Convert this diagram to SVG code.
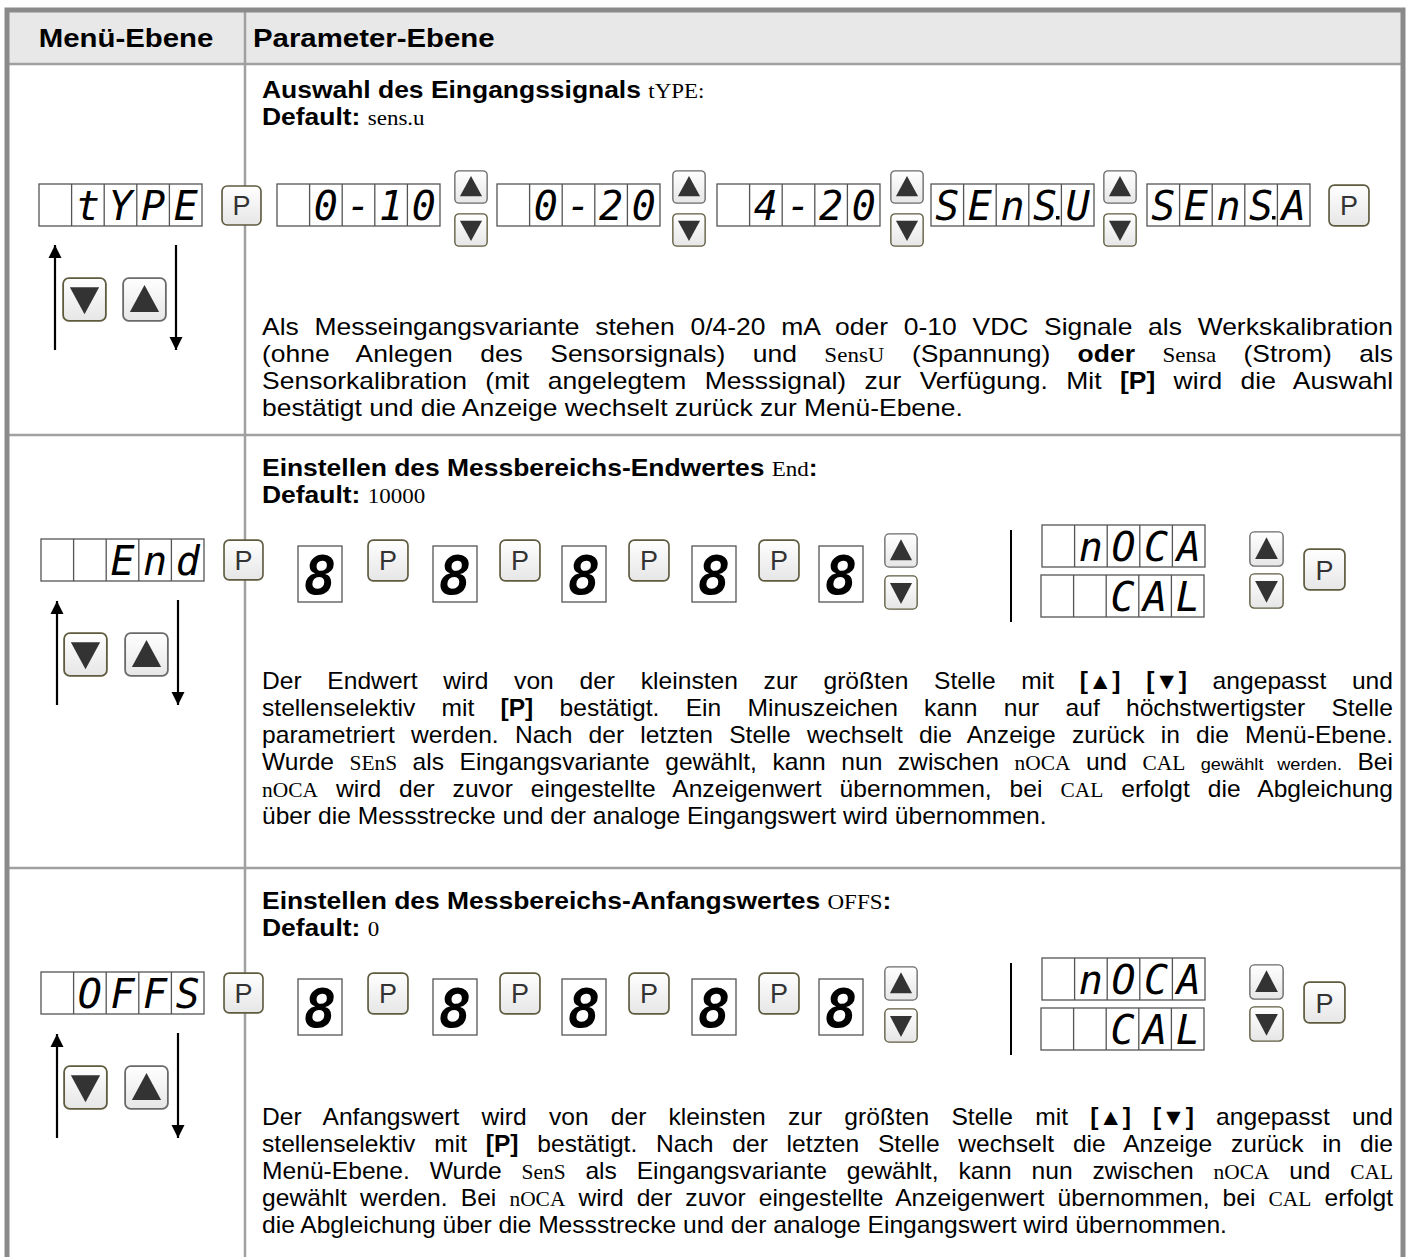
<svg xmlns="http://www.w3.org/2000/svg" width="1410" height="1257" viewBox="0 0 1410 1257">
<style>
.frame{fill:none;stroke:#8a8a8a;stroke-width:5}
.grid{stroke:#a0a0a0;stroke-width:2.5;fill:none}
.t{font-family:"Liberation Sans",Arial,sans-serif;font-size:23px;fill:#000}
.hd{font-family:"Liberation Sans",Arial,sans-serif;font-size:26px;font-weight:bold;fill:#000}
.b{font-weight:bold}
.s{font-family:"Liberation Serif","Times New Roman",serif;font-size:20px}
.sm{font-size:17px}
.seg{font-family:"DejaVu Sans Mono",monospace;font-style:oblique;font-size:40px;text-anchor:middle;fill:#000}
.big{font-family:"DejaVu Sans Mono",monospace;font-style:oblique;font-weight:bold;font-size:54px;text-anchor:middle;fill:#000}
.box{fill:#fff;stroke:#555;stroke-width:1.3}
.pk{font-family:"Liberation Sans",Arial,sans-serif;font-size:27px;fill:#333;text-anchor:middle}
.arr{stroke:#000;stroke-width:2.2;fill:none;marker-end:url(#ah)}
.vl{stroke:#000;stroke-width:2}
.dp{fill:#000}
.gap{font-size:10px}
</style>
<defs>
<linearGradient id="kg" x1="0" y1="0" x2="0" y2="1"><stop offset="0" stop-color="#ffffff"/><stop offset="1" stop-color="#e6e6e6"/></linearGradient>
<marker id="ah" viewBox="0 0 10 10" refX="10" refY="5" markerWidth="6" markerHeight="6" orient="auto"><path d="M0,0 L10,5 L0,10 z" fill="#000"/></marker>
<symbol id="key" viewBox="0 0 40 40" preserveAspectRatio="none"><rect x="1" y="1" width="38" height="38" rx="5" fill="url(#kg)" stroke="#5e5b3f" stroke-width="1.6"/></symbol>
<symbol id="kup" viewBox="0 0 40 40" preserveAspectRatio="none"><rect x="1" y="1" width="38" height="38" rx="5" fill="url(#kg)" stroke="#6a6a6a" stroke-width="1.6"/><polygon points="20,7 33,31 7,31" fill="#333"/></symbol>
<symbol id="kdn" viewBox="0 0 40 40" preserveAspectRatio="none"><rect x="1" y="1" width="38" height="38" rx="5" fill="url(#kg)" stroke="#5e5b3f" stroke-width="1.6"/><polygon points="7,9 33,9 20,33" fill="#333"/></symbol>
<symbol id="d5" viewBox="0 0 163 42" overflow="visible"><rect x="0" y="0" width="163" height="42" fill="#fff" stroke="#555" stroke-width="1.3"/><path d="M32.6,0V42M65.2,0V42M97.8,0V42M130.4,0V42" stroke="#555" stroke-width="1.3"/></symbol>
</defs>

<rect x="0" y="0" width="1410" height="1257" fill="#fff"/>
<g id="table">
<rect x="7" y="10" width="1396" height="1300" fill="#fff"/>
<rect x="7" y="10" width="1396" height="54" fill="#e8e8e8"/>
<line class="grid" x1="7" y1="64" x2="1403" y2="64"/>
<line class="grid" x1="245" y1="10" x2="245" y2="1257"/>
<line class="grid" x1="7" y1="435" x2="1403" y2="435"/>
<line class="grid" x1="7" y1="868" x2="1403" y2="868"/>
<rect class="frame" x="7" y="10" width="1396" height="1300"/>
<text class="hd" text-anchor="middle" transform="translate(126,47) scale(1.13,1)">Menü-Ebene</text>
<text class="hd" transform="translate(253,47) scale(1.13,1)">Parameter-Ebene</text>
</g>

<g id="connectors">
<line class="arr" x1="55" y1="350" x2="55" y2="245"/>
<line class="arr" x1="176" y1="245" x2="176" y2="350"/>
<line class="arr" x1="57" y1="705" x2="57" y2="601"/>
<line class="arr" x1="178" y1="600" x2="178" y2="705"/>
<line class="arr" x1="57" y1="1138" x2="57" y2="1034"/>
<line class="arr" x1="178" y1="1033" x2="178" y2="1138"/>
</g>

<!-- Row 1 -->
<g id="menu-type">
<use href="#d5" x="39" y="184" width="163" height="42"/>
<text class="seg" x="87.9" y="220">t</text><text class="seg" x="120.5" y="220">Y</text><text class="seg" x="153.1" y="220">P</text><text class="seg" x="185.7" y="220">E</text>
<use href="#key" x="221" y="185" width="41" height="41"/><text class="pk" x="241.5" y="215">P</text>
<use href="#kdn" x="62" y="277" width="45" height="45"/>
<use href="#kup" x="122" y="277" width="45" height="45"/>
</g>
<g id="param-type">
<text class="t" transform="translate(262,98) scale(1.15,1)"><tspan class="b">Auswahl des Eingangssignals </tspan><tspan class="s">tYPE:</tspan></text>
<text class="t" transform="translate(262,125) scale(1.15,1)"><tspan class="b">Default: </tspan><tspan class="s">sens.u</tspan></text>
<use href="#d5" x="277" y="184" width="163" height="42"/>
<text class="seg" x="325.9" y="220">0</text><text class="seg" x="358.5" y="220">-</text><text class="seg" x="391.1" y="220">1</text><text class="seg" x="423.7" y="220">0</text>
<use href="#kup" x="454" y="170" width="34" height="34"/><use href="#kdn" x="454" y="213" width="34" height="34"/>
<use href="#d5" x="497" y="184" width="163" height="42"/>
<text class="seg" x="545.9" y="220">0</text><text class="seg" x="578.5" y="220">-</text><text class="seg" x="611.1" y="220">2</text><text class="seg" x="643.7" y="220">0</text>
<use href="#kup" x="672" y="170" width="34" height="34"/><use href="#kdn" x="672" y="213" width="34" height="34"/>
<use href="#d5" x="717" y="184" width="163" height="42"/>
<text class="seg" x="765.9" y="220">4</text><text class="seg" x="798.5" y="220">-</text><text class="seg" x="831.1" y="220">2</text><text class="seg" x="863.7" y="220">0</text>
<use href="#kup" x="890" y="170" width="34" height="34"/><use href="#kdn" x="890" y="213" width="34" height="34"/>
<use href="#d5" x="931" y="184" width="163" height="42"/>
<text class="seg" x="947.3" y="220">S</text><text class="seg" x="979.9" y="220">E</text><text class="seg" x="1012.5" y="220">n</text><text class="seg" x="1045.1" y="220">S</text><rect class="dp" x="1056" y="216" width="3.5" height="3.5"/><text class="seg" x="1077.7" y="220">U</text>
<use href="#kup" x="1103" y="170" width="34" height="34"/><use href="#kdn" x="1103" y="213" width="34" height="34"/>
<use href="#d5" x="1147" y="184" width="163" height="42"/>
<text class="seg" x="1163.3" y="220">S</text><text class="seg" x="1195.9" y="220">E</text><text class="seg" x="1228.5" y="220">n</text><text class="seg" x="1261.1" y="220">S</text><rect class="dp" x="1272" y="216" width="3.5" height="3.5"/><text class="seg" x="1293.7" y="220">A</text>
<use href="#key" x="1328" y="184" width="42" height="43"/><text class="pk" x="1349" y="215">P</text>
<text class="t" transform="translate(262,335) scale(1.15,1)" word-spacing="7.2" textLength="983.5" lengthAdjust="spacing">Als Messeingangsvariante stehen 0/4-20 mA oder 0-10 VDC Signale als Werkskalibration</text>
<text class="t" transform="translate(262,362) scale(1.15,1)" word-spacing="17.4" textLength="983.5" lengthAdjust="spacing">(ohne Anlegen des Sensorsignals) und <tspan class="s">SensU</tspan> (Spannung) <tspan class="b">oder</tspan> <tspan class="s">Sensa</tspan> (Strom) als</text>
<text class="t" transform="translate(262,389) scale(1.15,1)" word-spacing="9.5" textLength="983.5" lengthAdjust="spacing">Sensorkalibration (mit angelegtem Messsignal) zur Verfügung. Mit <tspan class="b">[P]</tspan> wird die Auswahl</text>
<text class="t" transform="translate(262,416) scale(1.15,1)">bestätigt und die Anzeige wechselt zurück zur Menü-Ebene.</text>
</g>

<!-- Row 2 -->
<g id="menu-end">
<use href="#d5" x="41" y="539" width="163" height="42"/>
<text class="seg" x="122.5" y="575">E</text><text class="seg" x="155.1" y="575">n</text><text class="seg" x="187.7" y="575">d</text>
<use href="#key" x="223" y="539" width="41" height="42"/><text class="pk" x="243.5" y="570">P</text>
<use href="#kdn" x="63" y="632" width="45" height="45"/>
<use href="#kup" x="124" y="632" width="45" height="45"/>
</g>
<g id="param-end">
<text class="t" transform="translate(262,476) scale(1.15,1)"><tspan class="b">Einstellen des Messbereichs-Endwertes </tspan><tspan class="s">End</tspan><tspan class="b">:</tspan></text>
<text class="t" transform="translate(262,503) scale(1.15,1)"><tspan class="b">Default: </tspan><tspan class="s">10000</tspan></text>
<rect class="box" x="298" y="546" width="44" height="56"/><text class="big" x="320" y="594">8</text>
<use href="#key" x="367" y="539" width="42" height="43"/><text class="pk" x="388" y="570">P</text>
<rect class="box" x="433" y="546" width="44" height="56"/><text class="big" x="455" y="594">8</text>
<use href="#key" x="499" y="539" width="42" height="43"/><text class="pk" x="520" y="570">P</text>
<rect class="box" x="562" y="546" width="44" height="56"/><text class="big" x="584" y="594">8</text>
<use href="#key" x="628" y="539" width="42" height="43"/><text class="pk" x="649" y="570">P</text>
<rect class="box" x="692" y="546" width="44" height="56"/><text class="big" x="714" y="594">8</text>
<use href="#key" x="758" y="539" width="42" height="43"/><text class="pk" x="779" y="570">P</text>
<rect class="box" x="819" y="546" width="44" height="56"/><text class="big" x="841" y="594">8</text>
<use href="#kup" x="884" y="533" width="34" height="35"/><use href="#kdn" x="884" y="575" width="34" height="35"/>
<line class="vl" x1="1011" y1="530" x2="1011" y2="622"/>
<use href="#d5" x="1042" y="525" width="163" height="42"/>
<text class="seg" x="1090.9" y="561">n</text><text class="seg" x="1123.5" y="561">O</text><text class="seg" x="1156.1" y="561">C</text><text class="seg" x="1188.7" y="561">A</text>
<use href="#d5" x="1041" y="575" width="163" height="42"/>
<text class="seg" x="1122.5" y="611">C</text><text class="seg" x="1155.1" y="611">A</text><text class="seg" x="1187.7" y="611">L</text>
<use href="#kup" x="1249" y="531" width="35" height="36"/><use href="#kdn" x="1249" y="573" width="35" height="36"/>
<use href="#key" x="1303" y="548" width="43" height="43"/><text class="pk" x="1324.5" y="580">P</text>
<text class="t" transform="translate(262,689) scale(1.07,1)" word-spacing="17.6" textLength="1057" lengthAdjust="spacing">Der Endwert wird von der kleinsten zur größten Stelle mit <tspan class="b">[▲]</tspan> <tspan class="b">[▼]</tspan> angepasst und</text>
<text class="t" transform="translate(262,716) scale(1.07,1)" word-spacing="18.1" textLength="1057" lengthAdjust="spacing">stellenselektiv mit <tspan class="b">[P]</tspan> bestätigt. Ein Minuszeichen kann nur auf höchstwertigster Stelle</text>
<text class="t" transform="translate(262,743) scale(1.07,1)" word-spacing="8.7" textLength="1057" lengthAdjust="spacing">parametriert werden. Nach der letzten Stelle wechselt die Anzeige zurück in die Menü-Ebene.</text>
<text class="t" transform="translate(262,770) scale(1.07,1)" word-spacing="8.1" textLength="1057" lengthAdjust="spacing">Wurde <tspan class="s">SEnS</tspan> als Eingangsvariante gewählt, kann nun zwischen <tspan class="s">nOCA</tspan> und <tspan class="s">CAL</tspan> <tspan class="sm">gewählt werden.</tspan> Bei</text>
<text class="t" transform="translate(262,797) scale(1.07,1)" word-spacing="10.3" textLength="1057" lengthAdjust="spacing"><tspan class="s">nOCA</tspan> wird der zuvor eingestellte Anzeigenwert übernommen, bei <tspan class="s">CAL</tspan> erfolgt die Abgleichung</text>
<text class="t" transform="translate(262,824) scale(1.07,1)">über die Messstrecke und der analoge Eingangswert wird übernommen.</text>
</g>

<!-- Row 3 -->
<g id="menu-offs">
<use href="#d5" x="41" y="972" width="163" height="42"/>
<text class="seg" x="89.9" y="1008">O</text><text class="seg" x="122.5" y="1008">F</text><text class="seg" x="155.1" y="1008">F</text><text class="seg" x="187.7" y="1008">S</text>
<use href="#key" x="223" y="972" width="41" height="42"/><text class="pk" x="243.5" y="1003">P</text>
<use href="#kdn" x="63" y="1065" width="45" height="45"/>
<use href="#kup" x="124" y="1065" width="45" height="45"/>
</g>
<g id="param-offs">
<text class="t" transform="translate(262,909) scale(1.15,1)"><tspan class="b">Einstellen des Messbereichs-Anfangswertes </tspan><tspan class="s">OFFS</tspan><tspan class="b">:</tspan></text>
<text class="t" transform="translate(262,936) scale(1.15,1)"><tspan class="b">Default: </tspan><tspan class="s">0</tspan></text>
<rect class="box" x="298" y="979" width="44" height="56"/><text class="big" x="320" y="1027">8</text>
<use href="#key" x="367" y="972" width="42" height="43"/><text class="pk" x="388" y="1003">P</text>
<rect class="box" x="433" y="979" width="44" height="56"/><text class="big" x="455" y="1027">8</text>
<use href="#key" x="499" y="972" width="42" height="43"/><text class="pk" x="520" y="1003">P</text>
<rect class="box" x="562" y="979" width="44" height="56"/><text class="big" x="584" y="1027">8</text>
<use href="#key" x="628" y="972" width="42" height="43"/><text class="pk" x="649" y="1003">P</text>
<rect class="box" x="692" y="979" width="44" height="56"/><text class="big" x="714" y="1027">8</text>
<use href="#key" x="758" y="972" width="42" height="43"/><text class="pk" x="779" y="1003">P</text>
<rect class="box" x="819" y="979" width="44" height="56"/><text class="big" x="841" y="1027">8</text>
<use href="#kup" x="884" y="966" width="34" height="35"/><use href="#kdn" x="884" y="1008" width="34" height="35"/>
<line class="vl" x1="1011" y1="963" x2="1011" y2="1055"/>
<use href="#d5" x="1042" y="958" width="163" height="42"/>
<text class="seg" x="1090.9" y="994">n</text><text class="seg" x="1123.5" y="994">O</text><text class="seg" x="1156.1" y="994">C</text><text class="seg" x="1188.7" y="994">A</text>
<use href="#d5" x="1041" y="1008" width="163" height="42"/>
<text class="seg" x="1122.5" y="1044">C</text><text class="seg" x="1155.1" y="1044">A</text><text class="seg" x="1187.7" y="1044">L</text>
<use href="#kup" x="1249" y="964" width="35" height="36"/><use href="#kdn" x="1249" y="1006" width="35" height="36"/>
<use href="#key" x="1303" y="981" width="43" height="43"/><text class="pk" x="1324.5" y="1013">P</text>
<text class="t" transform="translate(262,1125) scale(1.07,1)" word-spacing="14.3" textLength="1057" lengthAdjust="spacing">Der Anfangswert wird von der kleinsten zur größten Stelle mit <tspan class="b">[▲]</tspan> <tspan class="b">[▼]</tspan> angepasst und</text>
<text class="t" transform="translate(262,1152) scale(1.07,1)" word-spacing="11.1" textLength="1057" lengthAdjust="spacing">stellenselektiv mit <tspan class="b">[P]</tspan> bestätigt. Nach der letzten Stelle wechselt die Anzeige zurück in die</text>
<text class="t" transform="translate(262,1179) scale(1.07,1)" word-spacing="12.1" textLength="1057" lengthAdjust="spacing">Menü-Ebene. Wurde <tspan class="s">SenS</tspan> als Eingangsvariante gewählt, kann nun zwischen <tspan class="s">nOCA</tspan> und <tspan class="s">CAL</tspan></text>
<text class="t" transform="translate(262,1206) scale(1.07,1)" word-spacing="5.8" textLength="1057" lengthAdjust="spacing">gewählt werden. Bei <tspan class="s">nOCA</tspan> wird der zuvor eingestellte Anzeigenwert übernommen, bei <tspan class="s">CAL</tspan> erfolgt</text>
<text class="t" transform="translate(262,1233) scale(1.07,1)">die Abgleichung über die Messstrecke und der analoge Eingangswert wird übernommen.</text>
</g>
</svg>
